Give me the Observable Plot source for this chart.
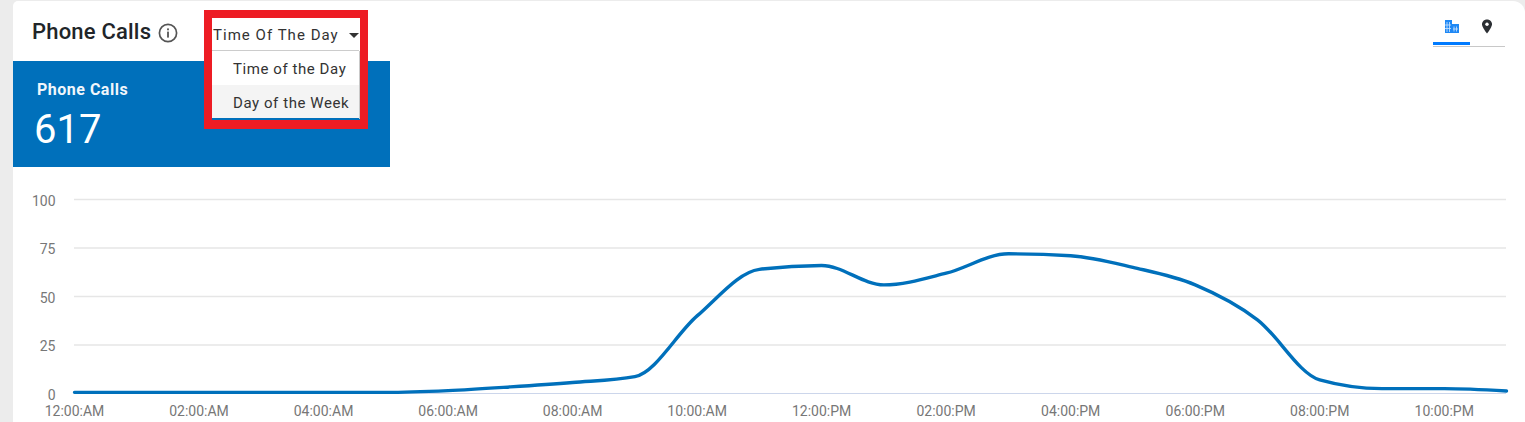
<!DOCTYPE html>
<html>
<head>
<meta charset="utf-8">
<script src="https://cdn.jsdelivr.net/npm/d3@7"></script>
<script src="https://cdn.jsdelivr.net/npm/@observablehq/plot@0.6"></script>
<style>
html,body{margin:0;padding:0;background:#ececec;overflow:hidden}
body{width:1525px;height:422px;position:relative;font-family:Roboto,sans-serif}
#card{position:absolute;left:13px;top:1px;width:1512px;height:421px;background:#fff;border-radius:5px 12px 0 0}
.a{position:absolute;white-space:nowrap}
#chart{position:absolute;left:0;top:180px}
#chart svg{display:block;background:transparent}
</style>
</head>
<body>
<div id="card"></div>
<div class="a" style="left:32px;top:18px;font-size:22px;font-weight:500;line-height:28px;letter-spacing:.2px;color:#212529">Phone Calls</div>
<svg class="a" style="left:158px;top:23px" width="20" height="20" viewBox="0 0 20 20"><circle cx="10" cy="10" r="8.6" fill="none" stroke="#555" stroke-width="1.7"/><rect x="9.1" y="8.6" width="1.8" height="6" fill="#555"/><rect x="9.1" y="5.4" width="1.8" height="1.9" fill="#555"/></svg>
<div class="a" style="left:13px;top:61px;width:377px;height:106px;background:#0070bb"></div>
<div class="a" style="left:37px;top:80px;font-size:16px;font-weight:700;line-height:19px;letter-spacing:.5px;color:#f0f6fb">Phone Calls</div>
<div class="a" style="left:34px;top:105px;font-size:40px;font-weight:400;line-height:50px;color:#fff">617</div>
<div class="a" style="left:212px;top:18px;width:148px;height:32px;background:#fff"></div>
<div class="a" style="left:213px;top:26px;font-size:15px;line-height:18px;letter-spacing:1.03px;color:#333">Time Of The Day</div>
<svg class="a" style="left:349px;top:33px" width="11" height="5"><path d="M0 0H10L5 5Z" fill="#333"/></svg>
<div class="a" style="left:212px;top:50px;width:147px;height:1px;background:#ccc"></div>
<div class="a" style="left:212px;top:51px;width:147px;height:34px;background:#fff"></div>
<div class="a" style="left:212px;top:85px;width:147px;height:33px;background:#f4f4f4"></div>
<div class="a" style="left:359px;top:51px;width:1px;height:68px;background:#c9c9c9"></div>
<div class="a" style="left:233px;top:60px;font-size:15px;line-height:18px;letter-spacing:.57px;color:#333">Time of the Day</div>
<div class="a" style="left:233px;top:94px;font-size:15px;line-height:18px;letter-spacing:.57px;color:#333">Day of the Week</div>
<div class="a" style="box-sizing:border-box;left:204px;top:10px;width:164px;height:119px;border:8px solid #ed1c24;border-bottom-width:9px"></div>
<svg class="a" style="left:1444px;top:19px" width="16" height="15" viewBox="0 0 16 15"><path d="M1 1H8V5H15V14H1Z" fill="#1e88f5"/><path d="M3 3V13M5.5 3V13M1 6H7M1 9.5H7M10 7.5V12.5M12.5 7.5V12.5M9 10H14" stroke="#cfe4fc" stroke-width=".8"/></svg>
<svg class="a" style="left:1481px;top:19px" width="12" height="15" viewBox="0 0 12 15"><path d="M6 0.5C2.9 0.5 1 2.8 1 5.3C1 8.5 6 14.5 6 14.5S11 8.5 11 5.3C11 2.8 9.1 0.5 6 0.5Z" fill="#2b2f33"/><circle cx="6" cy="5.3" r="1.7" fill="#fff"/></svg>
<div class="a" style="left:1433px;top:42px;width:37px;height:3px;background:#007bff"></div>
<div class="a" style="left:1433px;top:46px;width:72px;height:1px;background:#c8c8c8"></div>
<div id="chart"></div>
<script>
const hours = [0,1,2,3,4,5,6,7,8,9,10,11,12,13,14,15,16,17,18,19,20,21,22,23];
const calls = [0.6,0.6,0.6,0.6,0.6,0.6,1.5,3.4,5.7,8.7,40,64,66,56,62,72,71,65,56,38,7,2.5,2.5,1.3];
const tickHours = [0,2,4,6,8,10,12,14,16,18,20,22];
const tickLabels = ["12:00:AM","02:00:AM","04:00:AM","06:00:AM","08:00:AM","10:00:AM","12:00:PM","02:00:PM","04:00:PM","06:00:PM","08:00:PM","10:00:PM"];
const yTicks = [0,25,50,75,100];
const rows = hours.map((h,i)=>({h,v:calls[i]}));
const plot = Plot.plot({
  width:1525,height:242,
  marginTop:19,marginBottom:29,marginLeft:74,marginRight:19,
  style:{background:"transparent",fontFamily:"Roboto, sans-serif",fontSize:"14px",color:"#666"},
  x:{domain:[0,23],label:null},
  y:{domain:[0,100],label:null},
  marks:[
    Plot.ruleY(yTicks.filter(d=>d>0),{stroke:"#e6e6e6",strokeWidth:1.3,strokeOpacity:1}),
    Plot.ruleY([0],{stroke:"#ccd6eb",strokeWidth:1,strokeOpacity:1}),
    Plot.axisY({ticks:yTicks,tickSize:0,tickPadding:19,fontSize:14,fill:"#777",label:null,dy:2}),
    Plot.axisX({ticks:tickHours,tickSize:0,tickPadding:12.5,fontSize:14,fill:"#777",label:null,tickFormat:d=>tickLabels[tickHours.indexOf(d)]}),
    Plot.line(rows,{x:"h",y:"v",stroke:"#0070bb",strokeWidth:3.4,curve:"monotone-x"})
  ]
});
document.getElementById("chart").appendChild(plot);
</script>
</body>
</html>
